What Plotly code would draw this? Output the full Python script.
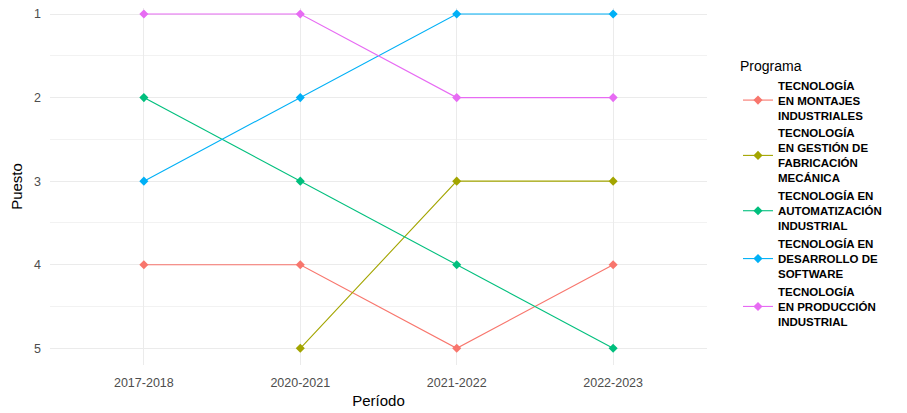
import plotly.graph_objects as go

periodos = ["2017-2018", "2020-2021", "2021-2022", "2022-2023"]

programas = [
    "TECNOLOGÍA<br>EN MONTAJES<br>INDUSTRIALES",
    "TECNOLOGÍA<br>EN GESTIÓN DE<br>FABRICACIÓN<br>MECÁNICA",
    "TECNOLOGÍA EN<br>AUTOMATIZACIÓN<br>INDUSTRIAL",
    "TECNOLOGÍA EN<br>DESARROLLO DE<br>SOFTWARE",
    "TECNOLOGÍA<br>EN PRODUCCIÓN<br>INDUSTRIAL",
]

montajes = [4, 4, 5, 4]
gestion = [None, 5, 3, 3]
automatizacion = [2, 3, 4, 5]
software = [3, 2, 1, 1]
produccion = [1, 1, 2, 2]

series = [montajes, gestion, automatizacion, software, produccion]
colores = ["#F8766D", "#A3A500", "#00BF7D", "#00B0F6", "#E76BF3"]

fig = go.Figure()
for nombre, vals, col in zip(programas, series, colores):
    xs = [p for p, v in zip(periodos, vals) if v is not None]
    ys = [v for v in vals if v is not None]
    fig.add_trace(go.Scatter(
        x=xs, y=ys, name=nombre, mode="lines+markers",
        line=dict(color=col, width=1.1),
        marker=dict(color=col, size=7, symbol="diamond"),
    ))

fig.update_layout(
    width=899, height=405,
    paper_bgcolor="white", plot_bgcolor="white",
    font=dict(family="Liberation Sans, Arial, sans-serif", color="black"),
    margin=dict(l=42, r=200, t=0, b=48, autoexpand=False),
    xaxis=dict(
        type="category", categoryorder="array", categoryarray=periodos,
        range=[-0.6, 3.6], automargin=False,
        showgrid=True, gridcolor="#EBEBEB", gridwidth=1.2,
        zeroline=False, showline=False, ticks="", ticklabelstandoff=8,
        tickfont=dict(size=12.5, color="#4D4D4D"),
        title=dict(text="Período", font=dict(size=15, color="black"), standoff=6),
    ),
    yaxis=dict(
        range=[5.2, 0.928], automargin=False,
        tickvals=[1, 2, 3, 4, 5], ticklabeloverflow="allow",
        showgrid=True, gridcolor="#EBEBEB", gridwidth=1.2,
        minor=dict(tickvals=[1.5, 2.5, 3.5, 4.5], showgrid=True, gridcolor="#F2F2F2", gridwidth=0.6),
        zeroline=False, showline=False, ticks="", ticklabelstandoff=8,
        tickfont=dict(size=12.5, color="#4D4D4D"),
        title=dict(text="Puesto", font=dict(size=15, color="black"), standoff=8),
    ),
    legend=dict(
        title=dict(text="Programa", font=dict(size=14, color="black", weight="normal")),
        xref="container", yref="container",
        x=0.812, y=0.889, xanchor="left", yanchor="top",
        font=dict(size=11.5, color="black", weight="bold"),
        tracegroupgap=0, itemwidth=30, maxheight=1.0,
        bgcolor="rgba(0,0,0,0)",
    ),
)

fig.write_html("out.html")
